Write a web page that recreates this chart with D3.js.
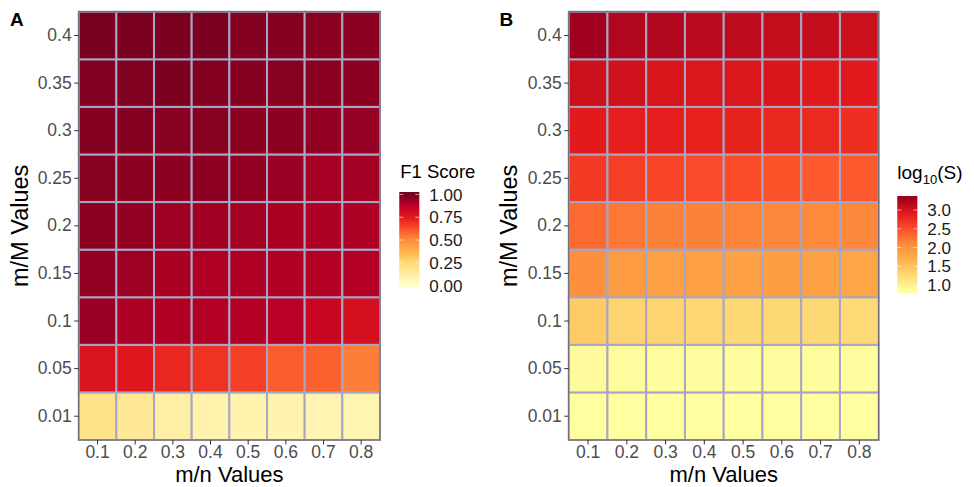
<!DOCTYPE html>
<html>
<head>
<meta charset="utf-8">
<script src="https://cdn.jsdelivr.net/npm/d3@7"></script>
<style>
  body { margin: 0; background: #fff; }
  svg { display: block; font-family: "Liberation Sans", Arial, Helvetica, sans-serif; }
</style>
</head>
<body>
<svg id="chart" width="974" height="487"></svg>
<script>
// ---- data ----
const mnValues = ["0.1", "0.2", "0.3", "0.4", "0.5", "0.6", "0.7", "0.8"];
const mMValues = ["0.01", "0.05", "0.1", "0.15", "0.2", "0.25", "0.3", "0.35", "0.4"];

// F1 score, one row per m/M value (bottom to top), columns m/n 0.1 .. 0.8
const f1Score = [
  [0.19, 0.15, 0.11, 0.09, 0.085, 0.08, 0.075, 0.07],
  [0.78, 0.76, 0.72, 0.69, 0.66, 0.60, 0.585, 0.53],
  [0.937, 0.901, 0.894, 0.891, 0.889, 0.88, 0.84, 0.80],
  [0.951, 0.933, 0.908, 0.898, 0.898, 0.894, 0.891, 0.889],
  [0.961, 0.951, 0.933, 0.924, 0.919, 0.908, 0.901, 0.901],
  [0.968, 0.965, 0.961, 0.958, 0.951, 0.937, 0.915, 0.919],
  [0.975, 0.974, 0.970, 0.968, 0.966, 0.961, 0.951, 0.944],
  [0.984, 0.982, 0.991, 0.977, 0.974, 0.968, 0.965, 0.961],
  [0.993, 0.989, 0.991, 0.989, 0.977, 0.974, 0.965, 0.961]
];

// log10(S), same layout
const log10S = [
  [0.85, 0.85, 0.85, 0.85, 0.85, 0.85, 0.85, 0.85],
  [0.90, 0.88, 0.87, 0.87, 0.87, 0.87, 0.87, 0.87],
  [1.41, 1.31, 1.31, 1.29, 1.27, 1.27, 1.27, 1.26],
  [2.06, 1.91, 1.87, 1.87, 1.87, 1.89, 1.86, 1.81],
  [2.31, 2.22, 2.15, 2.15, 2.14, 2.11, 2.10, 2.11],
  [2.65, 2.62, 2.57, 2.52, 2.51, 2.46, 2.41, 2.41],
  [2.90, 2.87, 2.87, 2.84, 2.83, 2.80, 2.77, 2.74],
  [3.04, 3.02, 2.97, 2.955, 2.955, 2.96, 2.92, 2.91],
  [3.31, 3.21, 3.21, 3.15, 3.12, 3.09, 3.09, 3.04]
];

const f1Ticks = [0, 0.25, 0.5, 0.75, 1.0];
const f1TickLabels = ["0.00", "0.25", "0.50", "0.75", "1.00"];
const sTicks = [1.0, 1.5, 2.0, 2.5, 3.0];
const sTickLabels = ["1.0", "1.5", "2.0", "2.5", "3.0"];

// ---- styles ----
const paletteA = ["#FFFFCC", "#FFEDA0", "#FED976", "#FEB24C", "#FD8D3C", "#FC4E2A", "#E31A1C", "#BD0026", "#76001F"];
const paletteB = ["#FFFFA0", "#FED976", "#FEB24C", "#FD8D3C", "#FC4E2A", "#E31A1C", "#A0001E"];
const TICK_FS = 17.5, TITLE_FS = 22, LEG_TITLE_FS = 18.5, LEG_FS = 17;

function makeColor(palette, lo, hi) {
  const n = palette.length;
  return d3.scaleLinear()
    .domain(d3.range(n).map(i => lo + (hi - lo) * i / (n - 1)))
    .range(palette)
    .interpolate(d3.interpolateRgb)
    .clamp(true);
}

const colorA = makeColor(paletteA, 0, 1);
const colorB = makeColor(paletteB, 0.85, 3.31);

const svg = d3.select("#chart");

function drawPanel(cfg) {
  const { x0, x1, y0, y1, values, color, letter, letterX } = cfg;
  const g = svg.append("g");
  const x = d3.scaleBand().domain(mnValues).range([x0, x1]).padding(0);
  const y = d3.scaleBand().domain(mMValues).range([y1, y0]).padding(0);

  const cells = [];
  values.forEach((row, ri) => row.forEach((v, ci) => cells.push({ r: mMValues[ri], c: mnValues[ci], v })));

  g.selectAll("rect.tile").data(cells).enter().append("rect")
    .attr("class", "tile")
    .attr("x", d => x(d.c))
    .attr("y", d => y(d.r))
    .attr("width", x.bandwidth())
    .attr("height", y.bandwidth())
    .attr("fill", d => color(d.v))
    .attr("stroke", "#A9A6C3")
    .attr("stroke-width", 2);

  // panel border
  g.append("rect")
    .attr("x", x0).attr("y", y0)
    .attr("width", x1 - x0).attr("height", y1 - y0)
    .attr("fill", "none").attr("stroke", "#6F6B78").attr("stroke-width", 1.2);

  // axes
  const ax = g.append("g").attr("transform", `translate(0,${y1})`)
    .call(d3.axisBottom(x).tickSize(4.5).tickPadding(2));
  const ay = g.append("g").attr("transform", `translate(${x0},0)`)
    .call(d3.axisLeft(y).tickSize(4.5).tickPadding(2.5));
  [ax, ay].forEach(a => {
    a.attr("font-size", TICK_FS).attr("font-family", null);
    a.select(".domain").remove();
    a.selectAll(".tick line").attr("stroke", "#333").attr("stroke-width", 1);
    a.selectAll(".tick text").attr("fill", "#4D4D4D").attr("font-size", TICK_FS);
  });
  ax.selectAll(".tick text").attr("dy", "0.66em");

  // axis titles
  g.append("text")
    .attr("x", (x0 + x1) / 2).attr("y", 482.3)
    .attr("text-anchor", "middle").attr("font-size", TITLE_FS).attr("fill", "#000")
    .text("m/n Values");
  g.append("text")
    .attr("transform", `translate(${letterX + 17.5},${(y0 + y1) / 2}) rotate(-90)`)
    .attr("text-anchor", "middle").attr("font-size", 23.5).attr("fill", "#000")
    .text("m/M Values");

  // panel letter
  g.append("text")
    .attr("x", letterX).attr("y", 26)
    .attr("font-size", 19).attr("font-weight", "bold").attr("fill", "#000")
    .text(letter);
}

function drawLegend(cfg) {
  const { bx, barTop, barBottom, lo, hi, color, ticks, labels, title } = cfg;
  const g = svg.append("g");
  const bw = 20;
  const half = (barBottom - barTop) / 20 / 2;
  const ly = d3.scaleLinear().domain([lo, hi]).range([barBottom - half, barTop + half]);
  const steps = d3.range(barTop, barBottom, 1);
  g.selectAll("rect.bin").data(steps).enter().append("rect")
    .attr("x", bx).attr("y", d => d)
    .attr("width", bw).attr("height", 1.2)
    .attr("fill", d => color(ly.invert(d + 0.5)));
  ticks.forEach((t, i) => {
    const yy = ly(t);
    g.append("line").attr("x1", bx).attr("x2", bx + 4).attr("y1", yy).attr("y2", yy)
      .attr("stroke", "#fff").attr("stroke-opacity", 0.6);
    g.append("line").attr("x1", bx + bw - 4).attr("x2", bx + bw).attr("y1", yy).attr("y2", yy)
      .attr("stroke", "#fff").attr("stroke-opacity", 0.6);
    g.append("text").attr("x", bx + bw + 10).attr("y", yy).attr("dy", "0.36em")
      .attr("font-size", LEG_FS).attr("fill", "#1A1A1A").text(labels[i]);
  });
  title(g, bx);
}

// Panel A
drawPanel({ x0: 78.7, x1: 380, y0: 11.7, y1: 440, values: f1Score, color: colorA, letter: "A", letterX: 10 });
drawLegend({
  bx: 399.3, barTop: 192, barBottom: 288, lo: 0, hi: 1, color: colorA,
  ticks: f1Ticks, labels: f1TickLabels,
  title: (g, bx) => g.append("text").attr("x", bx + 1).attr("y", 178)
    .attr("font-size", LEG_TITLE_FS).attr("fill", "#000").text("F1 Score")
});

// Panel B
drawPanel({ x0: 568.7, x1: 878.7, y0: 11.7, y1: 440, values: log10S, color: colorB, letter: "B", letterX: 499.5 });
drawLegend({
  bx: 897.3, barTop: 196, barBottom: 293, lo: 0.85, hi: 3.31, color: colorB,
  ticks: sTicks, labels: sTickLabels,
  title: (g, bx) => {
    const t = g.append("text").attr("x", bx).attr("y", 179).attr("font-size", LEG_TITLE_FS + 0.5).attr("fill", "#000");
    t.append("tspan").text("log");
    t.append("tspan").attr("font-size", 13).attr("dy", 4.5).text("10");
    t.append("tspan").attr("dy", -4.5).text("(S)");
  }
});
</script>
</body>
</html>
